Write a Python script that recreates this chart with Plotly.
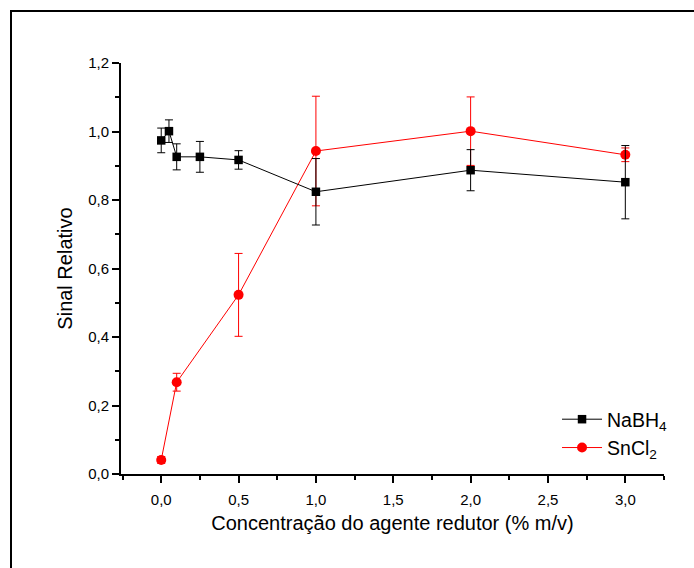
import plotly.graph_objects as go

# Data
nabh4_x = [0.0, 0.05, 0.1, 0.25, 0.5, 1.0, 2.0, 3.0]
nabh4_y = [0.974, 1.001, 0.926, 0.926, 0.917, 0.824, 0.887, 0.852]
nabh4_err = [0.036, 0.033, 0.038, 0.045, 0.027, 0.097, 0.060, 0.107]

sncl2_x = [0.0, 0.1, 0.5, 1.0, 2.0, 3.0]
sncl2_y = [0.041, 0.268, 0.523, 0.943, 1.001, 0.932]
sncl2_err = [0.010, 0.026, 0.121, 0.160, 0.100, 0.020]

font_family = "Liberation Sans, Arial, sans-serif"

fig = go.Figure()

fig.add_trace(go.Scatter(
    x=sncl2_x, y=sncl2_y, mode="lines+markers", name="SnCl<sub>2</sub>",
    line=dict(color="#ff0000", width=1),
    marker=dict(symbol="circle", size=10, color="#ff0000"),
    error_y=dict(type="data", array=sncl2_err, color="#ff0000", thickness=1, width=4),
    legendrank=2,
))
fig.add_trace(go.Scatter(
    x=nabh4_x, y=nabh4_y, mode="lines+markers", name="NaBH<sub>4</sub>",
    line=dict(color="#000000", width=1),
    marker=dict(symbol="square", size=8.5, color="#000000"),
    error_y=dict(type="data", array=nabh4_err, color="#000000", thickness=1, width=4),
    legendrank=1,
))

# outer frame
fig.add_shape(type="rect", xref="paper", yref="paper",
              x0=(11 - 121) / 543, x1=1.2, y0=-0.4, y1=(474 - 11) / 411,
              line=dict(color="black", width=2), fillcolor="rgba(0,0,0,0)", layer="above")

fig.update_layout(
    width=694, height=568,
    margin=dict(l=121, r=30, t=63, b=94),
    paper_bgcolor="white", plot_bgcolor="white",
    separators=",.",
    font=dict(family=font_family, size=15, color="black"),
    showlegend=True,
    legend=dict(x=0.803, y=0.18, xanchor="left", yanchor="top", itemwidth=40,
                bgcolor="rgba(0,0,0,0)", font=dict(size=19.5), tracegroupgap=0),
    xaxis=dict(
        range=[-0.26, 3.25], dtick=0.5, tick0=0, tickformat=".1f",
        showgrid=False, zeroline=False, showline=True, linecolor="black", linewidth=2,
        ticks="outside", ticklen=7, tickwidth=1.5, tickcolor="black",
        minor=dict(ticks="outside", ticklen=4, dtick=0.25, tickcolor="black", tickwidth=1.5),
        tickfont=dict(size=15), ticklabelstandoff=4,
        title=dict(text="Concentração do agente redutor (% m/v)", font=dict(size=20), standoff=9),
    ),
    yaxis=dict(
        range=[0, 1.2], dtick=0.2, tick0=0, tickformat=".1f",
        showgrid=False, zeroline=False, showline=True, linecolor="black", linewidth=2,
        ticks="outside", ticklen=7, tickwidth=1.5, tickcolor="black",
        minor=dict(ticks="outside", ticklen=4, dtick=0.1, tickcolor="black", tickwidth=1.5),
        tickfont=dict(size=15),
        title=dict(text="Sinal Relativo", font=dict(size=20), standoff=10),
    ),
)

fig.write_html("out.html")
